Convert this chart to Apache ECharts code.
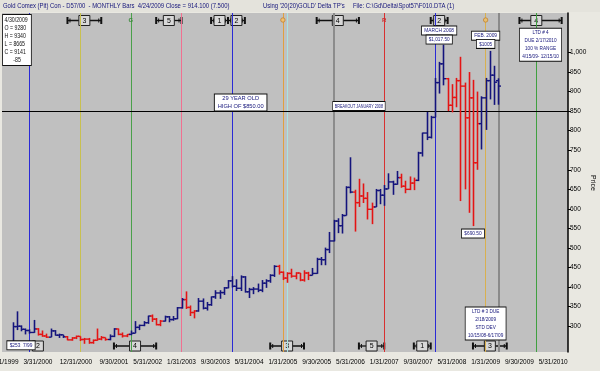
<!DOCTYPE html>
<html>
<head>
<meta charset="utf-8">
<script src="https://cdn.jsdelivr.net/npm/echarts@6/dist/echarts.min.js"></script>
<style>
html,body{margin:0;padding:0;background:#e9e8e1;}
#c{width:600px;height:371px;}
</style>
</head>
<body>
<div id="c"></div>
<script>
// ---------- DATA ----------
// Monthly categories Jul 1999 .. Aug 2010 (end-of-month dates)
const startYear = 1999, startMonth = 7, monthCount = 134;
const months = [];
for (let i = 0; i < monthCount; i++) {
  const m0 = startMonth - 1 + i;
  const y = startYear + Math.floor(m0 / 12), m = m0 % 12 + 1;
  const d = new Date(y, m, 0).getDate();
  months.push(m + '/' + d + '/' + y);
}
const firstBar = '9/30/1999';
// Monthly OHLC, Sep 1999 .. Apr 2009
const opens  = [255,299,300,292, 289,284,293,279,275,272,288,277,278,273,265,270,
                274,266,267,258,264,267,271,266,274,293,279,275, 279,282,297,302,309,326,318,304,313,324,317,319,
                347,368,348,335,339,364,346,355,375,385,386,398, 416,402,397,426,388,394,395,392,410,416,430,453,
                438,423,435,428,436,418,436,430,435,471,470,496, 518,569,557,583,655,643,616,633,627,599,605,647,
                635,651,669,663,680,658,650,666,673,743,794,783, 834,923,971,933,865,885,928,914,833,884,718,818,
                884,928,942,928];
const highs  = [310,338,302,294, 292,316,295,289,281,294,290,281,278,275,272,276,
                274,270,270,266,294,275,271,279,295,294,284,280, 289,313,304,313,327,330,321,316,327,326,326,349,
                372,389,353,341,372,371,362,376,392,392,400,418, 428,420,430,428,398,400,409,418,420,433,456,457,
                440,438,447,438,436,443,439,449,475,477,501,541, 572,576,587,658,732,649,677,665,643,616,651,651,
                661,691,672,697,690,672,683,680,746,795,848,838, 935,976,1020,935,919,935,989,923,950,930,900,888,
                935,1004,966,934];
const lows   = [253,290,287,279, 281,283,276,273,270,272,276,270,270,264,263,267,
                262,255,255,255,263,264,263,264,272,277,271,272, 277,282,290,300,306,311,302,300,312,310,314,318,
                345,344,326,320,337,343,340,352,370,370,380,397, 399,390,390,386,372,382,387,387,398,411,426,432,
                418,411,424,420,415,414,418,430,434,456,456,487, 517,538,537,583,640,542,605,615,573,561,605,612,
                608,651,636,662,654,640,648,648,671,734,776,780, 834,895,916,850,847,860,620,650,590,556,700,752,
                802,880,866,866.5];
const closes = [299,300,292,289, 284,293,279,275,272,288,277,278,273,265,270,274,
                266,267,258,264,267,271,266,274,293,279,275,279, 282,297,302,309,326,318,304,313,324,317,319,347,
                368,348,335,339,364,346,355,375,385,386,398,416, 402,397,426,388,394,395,392,410,416,430,453,438,
                423,435,428,436,418,436,430,435,471,470,496,518, 569,557,583,655,643,616,633,627,599,605,647,635,
                651,669,663,680,658,650,666,673,743,794,783,834, 923,971,933,865,885,928,914,833,884,718,818,884,
                928,942,924,914.1];
// Trend state of each bar: 1 = up (blue), -1 = down (red)
const trend  = [1,1,1,1, 1,1,-1,-1,-1,1,1,1,1,-1,-1,-1,
                -1,-1,-1,-1,-1,-1,-1,1,1,-1,-1,-1, 1,1,1,1,1,-1,-1,-1,1,1,1,1,
                1,-1,-1,-1,1,1,1,1,1,1,1,1, 1,1,1,1,1,1,1,1,1,1,1,-1,
                -1,-1,-1,-1,-1,-1,-1,1,1,1,1,1, 1,1,1,1,1,-1,-1,-1,-1,-1,1,1,
                1,1,1,1,-1,-1,-1,-1,1,1,1,1, 1,1,1,-1,-1,-1,-1,-1,-1,-1,-1,1,
                1,1,1,1];
const xTickLabels = ['7/31/1999','3/31/2000','12/31/2000','9/30/2001','5/31/2002','1/31/2003','9/30/2003',
                     '5/31/2004','1/31/2005','9/30/2005','5/31/2006','1/31/2007','9/30/2007','5/31/2008',
                     '1/31/2009','9/30/2009','5/31/2010'];
const yTickValues = [300,350,400,450,500,550,600,650,700,750,800,850,900,950,1000];
const breakoutLevel = 850;
// Cycle lines (dates)
const cycleDates = ['1/31/2000','1/31/2001','1/31/2002','1/31/2003','1/31/2004','1/31/2005','2/28/2005',
                    '1/31/2006','1/31/2007','1/31/2008','1/31/2009','4/30/2009','1/31/2010'];
// Cycle range markers: label, start, centre, end
const topMarkers = [
  ['3','10/31/2000','2/28/2001','6/30/2001'],
  ['5','7/31/2002','10/31/2002','1/31/2003'],
  ['1','8/31/2003','10/31/2003','12/31/2003'],
  ['2','12/31/2003','2/29/2004','4/30/2004'],
  ['4','9/30/2005','2/28/2006','7/31/2006'],
  ['2','12/31/2007','2/29/2008','4/30/2008'],
  ['4','9/30/2009','1/31/2010','7/31/2010']
];
const bottomMarkers = [
  ['2','11/30/1999','3/31/2000','4/30/2000'],
  ['4','9/30/2001','2/28/2002','7/31/2002'],
  ['3','10/31/2004','2/28/2005','6/30/2005'],
  ['5','7/31/2006','10/31/2006','1/31/2007'],
  ['1','8/31/2007','10/31/2007','12/31/2007'],
  ['3','10/31/2008','2/28/2009','6/30/2009']
];
const topLetters = [['G','1/31/2002'],['o','1/31/2005'],['R','1/31/2007'],['o','1/31/2009']];
// Annotations: text, anchor month, anchor price
const notes = [
  ['29 YEAR OLD\nHIGH OF $850.00', '3/31/2004', 872],
  ['BREAKOUT JANUARY 2008', '7/31/2006', 863],
  ['MARCH 2008', '2/29/2008', 1056],
  ['$1,017.50', '2/29/2008', 1033],
  ['FEB. 2009', '1/31/2009', 1043],
  ['$1005', '1/31/2009', 1022],
  ['LTD # 4\nDUE 2/17/2010\n100 % RANGE\n4/15/09- 12/15/10', '2/28/2010', 1020],
  ['$690.50', '10/31/2008', 537],
  ['LTD # 3 DUE\n2/18/2009\nSTD DEV\n10/15/08-6/17/09', '1/31/2009', 307],
  ['$253  7/99', '11/30/1999', 251]
];
const infoText = '4/30/2009\nO = 9280\nH = 9340\nL = 8665\nC = 9141\n      -85';
const titleParts = ['Gold Comex (Pit) Con - D57/00  - MONTHLY Bars  4/24/2009 Close = 914.100 (7.500)',
                    "Using '20(20)GOLD' Delta TP's", 'File: C:\\Gd\\Delta\\Spot57\\F010.DTA (1)'];

// ---------- STYLE ----------
const UP = '#14147c', DOWN = '#e41414', NAVY = '#14147a';
const cycleColors = ['#2a2ad6','#c8c050','#4aa04a','#f07090','#2a2ad6','#e0a040','#a8e4e4',
                     '#8c8c8c','#d83030','#2a2ad6','#d8b050','#8a8a8a','#40a040'];
const cycleWidths = [1,1,1,1,1,1,1,2,1,1,1,2,1];
const noteScale = [0.95,0.62,0.8,0.78,0.8,0.78,0.78,0.8,0.78,0.8];
const GRID = {left: 2, right: 32, top: 13, bottom: 19};

const chart = echarts.init(document.getElementById('c'), null, {renderer: 'canvas'});
const offset = months.indexOf(firstBar);
const bars = opens.map((o, i) => [i + offset, o, highs[i], lows[i], closes[i], trend[i]]);

chart.setOption({
  animation: false,
  backgroundColor: '#e9e8e1',
  grid: {left: GRID.left, right: GRID.right, top: GRID.top, bottom: GRID.bottom,
         containLabel: false, outerBoundsMode: 'none',
         show: true, backgroundColor: '#c0c0c0', borderWidth: 0},
  xAxis: {
    type: 'category', data: months, boundaryGap: true,
    axisLine: {show: false}, axisTick: {show: false}, splitLine: {show: false},
    axisLabel: {
      interval: (i, v) => xTickLabels.indexOf(v) >= 0, hideOverlap: false,
      color: '#000', fontSize: 6.5, margin: 7,
      fontFamily: "'Liberation Sans',Arial,sans-serif"
    }
  },
  yAxis: {
    type: 'value', position: 'right', min: 234, max: 1101, scale: true,
    axisLine: {show: true, lineStyle: {color: '#000', width: 1.5}},
    axisTick: {show: true, length: 3, lineStyle: {color: '#000'}, customValues: yTickValues},
    axisLabel: {show: true, color: '#000', fontSize: 6.5, margin: 2, fontFamily: "'Liberation Sans',Arial,sans-serif",
      customValues: yTickValues,
      formatter: v => v >= 1000 ? (Math.floor(v/1000) + ',' + String(v % 1000).padStart(3, '0')) : String(v)},
    splitLine: {show: false}
  },
  series: [{
    type: 'custom',
    encode: {x: 0, y: [1, 2, 3, 4]},
    data: bars,
    z: 5,
    renderItem: (params, api) => {
      const x = api.value(0);
      const pH = api.coord([x, api.value(2)]), pL = api.coord([x, api.value(3)]);
      const pO = api.coord([x, api.value(1)]), pC = api.coord([x, api.value(4)]);
      const col = api.value(5) > 0 ? UP : DOWN;
      const cx = Math.round(pH[0]) + 0.5;
      return {type: 'group', children: [
        {type: 'line', shape: {x1: cx, y1: pH[1], x2: cx, y2: pL[1]}, style: {stroke: col, lineWidth: 1.6}},
        {type: 'line', shape: {x1: cx - 2.5, y1: pO[1], x2: cx, y2: pO[1]}, style: {stroke: col, lineWidth: 1.4}},
        {type: 'line', shape: {x1: cx, y1: pC[1], x2: cx + 2.5, y2: pC[1]}, style: {stroke: col, lineWidth: 1.4}}
      ]};
    },
    markLine: {
      silent: true, symbol: ['none', 'none'], label: {show: false}, animation: false, z: 3,
      data: cycleDates.map((d, i) => ({xAxis: d, lineStyle: {color: cycleColors[i], width: cycleWidths[i], type: 'solid'}}))
        .concat([{yAxis: breakoutLevel, lineStyle: {color: '#000', width: 1, type: 'solid'}}])
    }
  }]
});

// ---------- ANNOTATIONS (anchored through the axes) ----------
const xOf = d => chart.convertToPixel({xAxisIndex: 0}, d);
const yOf = v => chart.convertToPixel({yAxisIndex: 0}, v);
const plotTop = GRID.top, plotBottom = 371 - GRID.bottom;
const g = [];

// title
g.push({type: 'rect', shape: {x: 0, y: 0, width: 600, height: 12}, style: {fill: '#e4e3dc'}, z: 10});
[[3], [263], [353]].forEach((p, i) => g.push({type: 'text', x: p[0], y: 6, scaleX: 0.74, z: 11,
  style: {text: titleParts[i], fill: NAVY, font: "8px 'Liberation Sans', Arial, sans-serif", verticalAlign: 'middle', align: 'left'}}));

// Price axis name
g.push({type: 'text', x: 593, y: 183, rotation: -Math.PI / 2, z: 11,
  style: {text: 'Price', fill: '#000', font: "7px 'Liberation Sans', Arial, sans-serif", align: 'center', verticalAlign: 'middle'}});

// range markers
function beam(m, yc) {
  const x1 = xOf(m[1]), xm = xOf(m[2]), x2 = xOf(m[3]);
  const ch = [];
  ch.push({type: 'line', shape: {x1: x1, y1: yc, x2: x2, y2: yc}, style: {stroke: '#111', lineWidth: 1.3}});
  [x1, x2].forEach((x, k) => {
    ch.push({type: 'rect', shape: {x: x - 1, y: yc - 3.5, width: 2, height: 7}, style: {fill: '#111'}});
    const xi = k === 0 ? x + 2.5 : x - 2.5;
    ch.push({type: 'line', shape: {x1: xi, y1: yc - 2, x2: xi, y2: yc + 2}, style: {stroke: '#111', lineWidth: 1}});
  });
  ch.push({type: 'rect', shape: {x: xm - 5.5, y: yc - 5, width: 11, height: 10},
    style: {fill: '#d8d8d8', stroke: '#222', lineWidth: 1}});
  ch.push({type: 'text', x: xm, y: yc + 0.5, z2: 5, style: {text: m[0], fill: '#000',
    font: "7px 'Liberation Sans', Arial, sans-serif", align: 'center', verticalAlign: 'middle'}});
  return {type: 'group', z: 20, children: ch};
}
topMarkers.forEach(m => g.push(beam(m, plotTop + 7.5)));
bottomMarkers.forEach(m => g.push(beam(m, plotBottom - 6)));

// top letters / dots
topLetters.forEach((t, i) => {
  const x = xOf(t[1]);
  if (t[0] === 'o') {
    g.push({type: 'circle', z: 20, shape: {cx: x, cy: plotTop + 7, r: 2.2},
      style: {fill: i === 1 ? '#f0c070' : '#e8c070', stroke: '#c08030', lineWidth: 0.8}});
  } else {
    g.push({type: 'text', z: 20, x: x, y: plotTop + 7, style: {text: t[0], fill: t[0] === 'G' ? '#3a8a3a' : '#d03030',
      font: "bold 6px 'Liberation Sans', Arial, sans-serif", align: 'center', verticalAlign: 'middle'}});
  }
});

// notes
notes.forEach((n, i) => {
  g.push({type: 'text', z: 30, x: xOf(n[1]), y: yOf(n[2]), scaleX: noteScale[i],
    style: {text: n[0], fill: NAVY, font: "6px 'Liberation Sans', Arial, sans-serif", lineHeight: 8,
      align: 'center', verticalAlign: 'middle', backgroundColor: '#fff', borderColor: '#111', borderWidth: 1,
      padding: [0, 3, 0, 3]}});
});

// info box
g.push({type: 'text', z: 30, x: 3, y: 15, scaleX: 0.8,
  style: {text: infoText, fill: '#111', font: "6.5px 'Liberation Sans', Arial, sans-serif", lineHeight: 8,
    align: 'left', verticalAlign: 'top', backgroundColor: '#fff', borderColor: '#111', borderWidth: 1,
    padding: [1, 4, 1, 2]}});

chart.setOption({graphic: g});
</script>
</body>
</html>
